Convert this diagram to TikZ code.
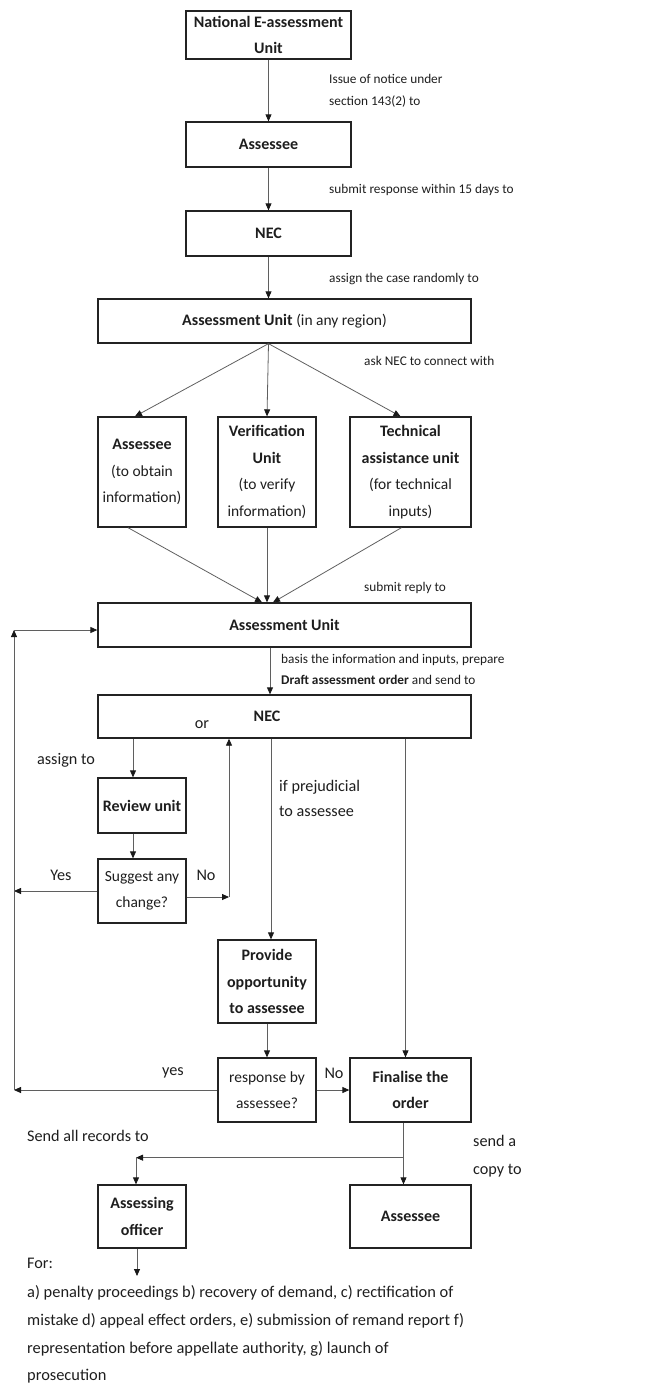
\documentclass[tikz,border=0pt]{standalone}
\usepackage{fontspec}
\setmainfont{Carlito}
\usepackage{xcolor}
\usetikzlibrary{arrows.meta,positioning,calc}
\definecolor{boxgray}{RGB}{35,35,35}
\definecolor{linegray}{RGB}{95,95,95}
\definecolor{inkgray}{RGB}{30,30,30}

\begin{document}
\begin{tikzpicture}[
    x=1pt, y=-1pt,
    >={Triangle[length=7pt,width=6pt,color=black!90]},
    unit/.style={rectangle, draw=boxgray, line width=1.3pt, inner sep=1pt, align=center,
                 font=\fontsize{16}{26.5}\selectfont\bfseries, text=inkgray},
    plainunit/.style={unit, font=\fontsize{15.5}{26}\selectfont},
    note/.style={anchor=west, align=left, inner sep=0pt,
                 font=\fontsize{13.3}{21.5}\selectfont, text=inkgray},
    say/.style={inner sep=0pt, font=\fontsize{16.2}{27}\selectfont, text=inkgray},
    flow/.style={->, line width=0.8pt, color=linegray},
]
\useasboundingbox (0,0) rectangle (664,1385);

% Notice and assignment
\node[unit, minimum width=165pt, minimum height=48pt] (neau) at (268.5,35) {National E-assessment\\Unit};
\node[unit, minimum width=165pt, minimum height=45pt] (assessee) at (268.5,144.5) {Assessee};
\node[unit, minimum width=165pt, minimum height=45pt] (nec) at (268.5,233.5) {NEC};
\node[unit, minimum width=373pt, minimum height=44pt] (aunit) at (284.5,321) {Assessment Unit \mdseries\fontsize{15.5}{26}\selectfont(in any region)};

\node[note] (notice) at (329,91) {Issue of notice under\\section 143(2) to};
\node[note] (within) at (329,190) {submit response within 15 days to};
\node[note] (random) at (329,279) {assign the case randomly to};

\draw[flow] (neau) -- (assessee);
\draw[flow] (assessee) -- (nec);
\draw[flow] (nec) -- (aunit.north -| nec.south);

% Information gathering
\node[unit, minimum width=88pt, minimum height=110pt] (obtain) at (142,472)
    {Assessee\\\mdseries\fontsize{15.5}{26}\selectfont(to obtain\\\mdseries\fontsize{15.5}{26}\selectfont information)};
\node[unit, minimum width=98pt, minimum height=110pt] (verify) at (267,472)
    {Verification\\Unit\\\mdseries\fontsize{15.5}{26}\selectfont(to verify\\\mdseries\fontsize{15.5}{26}\selectfont information)};
\node[unit, minimum width=121pt, minimum height=110pt] (tech) at (410.5,472)
    {Technical\\assistance unit\\\mdseries\fontsize{15.5}{26}\selectfont(for technical\\\mdseries\fontsize{15.5}{26}\selectfont inputs)};

\node[note] (connect) at (364,361) {ask NEC to connect with};

\coordinate (fan) at (aunit.south -| nec.south);
\draw[flow] (fan) -- ($(obtain.north)+(-7,0)$);
\draw[flow] (fan) -- (verify.north);
\draw[flow] (fan) -- ($(tech.north)+(-10,0)$);

% Reply and draft order
\node[unit, minimum width=373pt, minimum height=44pt] (reply) at (284.5,625) {Assessment Unit};
\node[unit, minimum width=373pt, minimum height=43pt] (draftnec) at (284.5,716.5) {\hspace*{-35pt}NEC};

\node[note] (submit) at (364,588) {submit reply to};
\node[note] (basis) at (281,669.5) {basis the information and inputs, prepare\\\textbf{Draft assessment order} and send to};

\coordinate (merge) at (verify.south |- reply.north);
\draw[flow] ($(obtain.south)+(-14,0)$) -- ($(merge)+(-5,0)$);
\draw[flow] (verify.south) -- (merge);
\draw[flow] ($(tech.south)+(-9,0)$) -- ($(merge)+(6,0)$);
\draw[flow] ($(reply.south -| nec.south)+(1.5,0)$) -- ($(draftnec.north -| nec.south)+(1.5,0)$);

% Review branch
\node[unit, minimum width=88pt, minimum height=55pt] (review) at (142,805.5) {Review unit};
\node[plainunit, minimum width=88pt, minimum height=64pt] (suggest) at (142,891) {Suggest any\\change?};

\node[say] (ortext) at (202,725) {or};
\node[say] (assignto) at (66,760) {assign to};
\node[say] (yestext) at (61,875) {Yes};
\node[say] (notext) at (206,875) {No};

\coordinate (back) at (14,630);
\coordinate (noturn) at (229,897);
\draw[flow] ($(draftnec.south -| review.north)+(-9,0)$) -- ($(review.north)+(-9,0)$);
\draw[flow] ($(review.south)+(-9,0)$) -- ($(suggest.north)+(-9,0)$);
\draw[flow] (suggest.west) -- (suggest.west -| back);
\draw[flow] (suggest.east |- noturn) -- (noturn);
\draw[flow] (noturn) -- (noturn |- draftnec.south);

% Opportunity branch
\node[unit, minimum width=98pt, minimum height=83pt] (provide) at (267,981.5) {Provide\\opportunity\\to assessee};
\node[plainunit, minimum width=98pt, minimum height=64pt] (response) at (267,1090) {response by\\assessee?};
\node[unit, minimum width=121pt, minimum height=64pt] (finalise) at (410.5,1090) {Finalise the\\order};

\node[say, anchor=west, align=left, font=\fontsize{16.2}{25}\selectfont] (prejudice) at (279,798.5) {if prejudicial\\to assessee};
\node[say] (yesback) at (173,1073) {yes};
\node[say] (noback) at (334,1073) {No};

\draw[flow] ($(draftnec.south -| provide.north)+(4,0)$) -- ($(provide.north)+(4,0)$);
\draw[flow] ($(draftnec.south -| finalise.north)+(-5,0)$) -- ($(finalise.north)+(-5,0)$);
\draw[flow] (provide) -- (response);
\draw[flow] (response.west) -- (response.west -| back);
\draw[flow] (response.east) -- (finalise.west);
\draw[flow] (response.west -| back) -- (back);
\draw[flow] (back) -- (back -| reply.west);

% Records and copy
\node[unit, minimum width=88pt, minimum height=63pt] (officer) at (142,1216.5) {Assessing\\officer};
\node[unit, minimum width=121pt, minimum height=63pt] (copyee) at (410.5,1216.5) {Assessee};

\node[say, anchor=west] (records) at (27,1136) {Send all records to};
\node[say, anchor=west, align=left, font=\fontsize{16.2}{28}\selectfont] (sendcopy) at (473,1156) {send a\\copy to};
\node[say, anchor=west] (fortext) at (27,1263) {For:};
\node[say, anchor=west, align=left, font=\fontsize{16.4}{27.7}\selectfont] (purposes) at (27,1334.5)
    {a) penalty proceedings b) recovery of demand, c) rectification of\\
     mistake d) appeal effect orders, e) submission of remand report f)\\
     representation before appellate authority, g) launch of\\
     prosecution};

\coordinate (fork) at ($(finalise.south)+(-7,35)$);
\coordinate (forend) at (137,1276);
\draw[flow] ($(finalise.south)+(-7,0)$) -- ($(copyee.north)+(-7,0)$);
\draw[flow] (fork) -- ($(fork -| officer.north)+(-6,0)$);
\draw[flow] ($(fork -| officer.north)+(-6,0)$) -- ($(officer.north)+(-6,0)$);
\draw[flow] (officer.south -| forend) -- (forend);

\end{tikzpicture}
\end{document}
